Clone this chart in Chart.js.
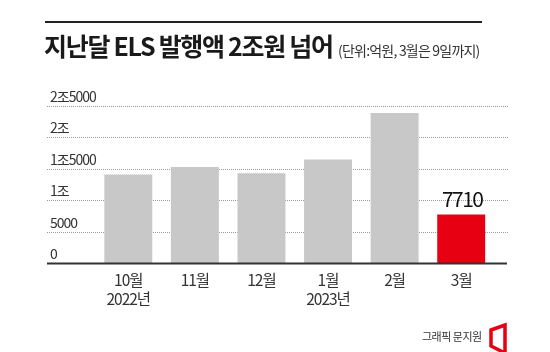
<!DOCTYPE html>
<html><head><meta charset="utf-8">
<script src="https://cdn.jsdelivr.net/npm/chart.js@4/dist/chart.umd.min.js"></script>
<style>
html,body{margin:0;padding:0;background:#fff;}
#wrap{position:relative;width:550px;height:352px;overflow:hidden;font-family:"Noto Sans CJK KR","Noto Sans",sans-serif;}
#rule{position:absolute;left:45px;top:21px;width:437px;height:2px;background:#222;}
#title{position:absolute;left:44px;top:27px;font-size:25px;font-weight:700;letter-spacing:-1.3px;color:#1a1a1a;white-space:nowrap;line-height:36px;}
#title span{font-size:14px;font-weight:400;letter-spacing:-0.8px;color:#333;margin-left:1px;}
#credit{position:absolute;left:422px;top:328px;font-size:11px;letter-spacing:-0.5px;color:#333;white-space:nowrap;line-height:16px;}
canvas{position:absolute;left:0;top:0;}
</style></head>
<body><div id="wrap">
<canvas id="c" width="550" height="352"></canvas>
<div id="rule"></div>
<div id="title">지난달 ELS 발행액 2조원 넘어 <span>(단위:억원, 3월은 9일까지)</span></div>
<div id="credit">그래픽 문지원</div>
</div>
<script>
const categories = [["10월","2022년"],["11월"],["12월"],["1월","2023년"],["2월"],["3월"]];
const issuance = [14100, 15300, 14300, 16500, 23900, 7710];
const barColors = ["#c8c8c8","#c8c8c8","#c8c8c8","#c8c8c8","#c8c8c8","#e60012"];
const tickValues = [25000, 20000, 15000, 10000, 5000, 0];
const tickLabels = ["2조5000","2조","1조5000","1조","5000","0"];
const highlightLabel = "7710";

const FONT = '"Noto Sans CJK KR","Noto Sans",sans-serif';

const decor = {
  id: 'decor',
  beforeDatasetsDraw(chart) {
    const ctx = chart.ctx, y = chart.scales.y;
    ctx.save();
    ctx.strokeStyle = '#9a9a9a';
    ctx.lineWidth = 1;
    ctx.setLineDash([1, 1]);
    tickValues.forEach((v, i) => {
      const py = Math.round(y.getPixelForValue(v)) + 0.5;
      if (v !== 0) {
        ctx.beginPath(); ctx.moveTo(47, py); ctx.lineTo(508, py); ctx.stroke();
      }
      ctx.fillStyle = '#333';
      ctx.font = '14px ' + FONT;
      ctx.letterSpacing = '-1px';
      ctx.textAlign = 'left';
      ctx.textBaseline = 'alphabetic';
      ctx.fillText(tickLabels[i], 50, py - 5);
    });
    ctx.restore();
  },
  afterDatasetsDraw(chart) {
    const ctx = chart.ctx, x = chart.scales.x, y = chart.scales.y;
    ctx.save();
    const py = Math.round(y.getPixelForValue(0)) + 0.5;
    ctx.strokeStyle = '#333';
    ctx.lineWidth = 2;
    ctx.beginPath(); ctx.moveTo(47, py); ctx.lineTo(507, py); ctx.stroke();
    ctx.fillStyle = '#333';
    ctx.font = '15.5px ' + FONT;
    ctx.letterSpacing = '-1px';
    ctx.textAlign = 'center';
    ctx.textBaseline = 'middle';
    categories.forEach((lines, i) => {
      const cx = x.getPixelForValue(i);
      lines.forEach((t, j) => ctx.fillText(t, cx, py + 17 + j * 19));
    });
    const last = issuance.length - 1;
    ctx.fillStyle = '#111';
    ctx.font = '21px ' + FONT;
    ctx.letterSpacing = '-1.5px';
    ctx.textBaseline = 'alphabetic';
    ctx.fillText(highlightLabel, x.getPixelForValue(last) + 1, y.getPixelForValue(issuance[last]) - 8);
    ctx.strokeStyle = '#e60012';
    ctx.lineWidth = 3.5;
    ctx.setLineDash([]);
    ctx.lineJoin = 'miter';
    ctx.beginPath();
    ctx.moveTo(491, 330); ctx.lineTo(505, 325); ctx.lineTo(505, 353); ctx.lineTo(491, 346); ctx.closePath();
    ctx.stroke();
    ctx.restore();
  }
};

new Chart(document.getElementById('c'), {
  type: 'bar',
  data: {
    labels: categories,
    datasets: [{ data: issuance, backgroundColor: barColors, borderWidth: 0,
      categoryPercentage: 1, barPercentage: 0.72 }]
  },
  options: {
    responsive: false, animation: false,
    layout: { padding: { left: 95, right: 55.5, top: 106, bottom: 89 } },
    plugins: { legend: { display: false }, tooltip: { enabled: false } },
    scales: {
      x: { display: false },
      y: { display: false, min: 0, max: 25000 }
    }
  },
  plugins: [decor]
});
</script>
</body></html>
